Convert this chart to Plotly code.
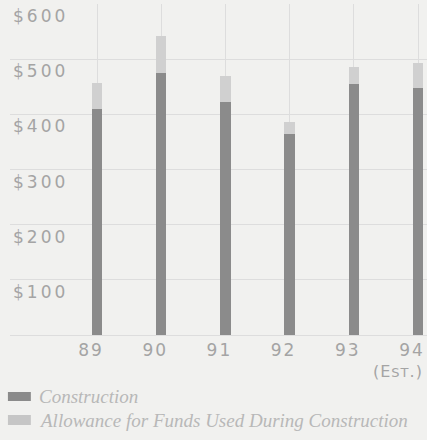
import plotly.graph_objects as go

# Fiscal years and capital expenditures (millions of dollars)
years = [89, 90, 91, 92, 93, 94]
year_labels = ["89", "90", "91", "92", "93", "94"]
estimate_note = "(E<span style='font-size:13px'>ST</span>.)"
construction = [410, 476, 422, 364, 455, 449]
afudc = [48, 66, 47, 23, 32, 45]
series_names = ["Construction", "Allowance for Funds Used During Construction"]
y_ticks = [100, 200, 300, 400, 500, 600]
y_tick_labels = ["$100", "$200", "$300", "$400", "$500", "$600"]

bg = "#f1f1ef"
txt = "#a4a4a4"
grid = "#dddddd"
dark = "#8b8b8b"
light = "#d0d0d0"


def spaced(label, px):
    return f"<span style='letter-spacing:{px}px'>{label}</span>"


fig = go.Figure()
fig.add_trace(go.Bar(
    x=years, y=construction, name=series_names[0],
    marker=dict(color=dark, line=dict(width=0)),
    width=0.16,
))
fig.add_trace(go.Bar(
    x=years, y=afudc, name=series_names[1],
    marker=dict(color=light, line=dict(width=0)),
    width=0.16,
))

# The last year is an estimate: note it under its tick label
fig.add_annotation(xref="x", yref="y", x=years[-1], y=0,
                   xanchor="right", yanchor="top", xshift=7, yshift=-25,
                   text=spaced(estimate_note, 1), showarrow=False,
                   font=dict(family="DejaVu Sans", size=16, color=txt))

# Key beneath the chart: swatch plus italic caption per series
key_rows = [(-0.1722, -0.1994, dark), (-0.2417, -0.2719, "#c6c6c6")]
for name, (y0, y1, col) in zip(series_names, key_rows):
    fig.add_shape(type="rect", xref="paper", yref="paper",
                  x0=-0.005, x1=0.050, y0=y1, y1=y0,
                  fillcolor=col, line=dict(width=0))
    fig.add_annotation(xref="paper", yref="paper",
                       x=0.064, y=(y0 + y1) / 2, xanchor="left", yanchor="middle",
                       text=name, showarrow=False,
                       font=dict(family="Liberation Serif", size=19,
                                 color="#b8b8b8", style="italic"))

fig.update_layout(
    width=427, height=440,
    barmode="stack",
    paper_bgcolor=bg, plot_bgcolor=bg,
    margin=dict(l=10, r=0, t=4, b=105),
    showlegend=False,
    font=dict(family="DejaVu Sans", color=txt),
)
fig.update_xaxes(
    range=[87.645, 94.14],
    automargin=False,
    tickvals=years, ticktext=[spaced(t, 2) for t in year_labels],
    showgrid=True, gridcolor=grid, gridwidth=1,
    zeroline=False, showline=False, ticks="",
    tickfont=dict(family="DejaVu Sans", size=17, color=txt),
    ticklabelshift=-6, ticklabelstandoff=3,
    ticklabeloverflow="allow",
)
fig.update_yaxes(
    range=[0, 600.5],
    automargin=False,
    tickvals=y_ticks, ticktext=[spaced(t, 3) for t in y_tick_labels],
    ticklabelposition="inside",
    ticklabelshift=12,
    ticklabeloverflow="allow",
    showgrid=True, gridcolor=grid, gridwidth=1,
    zeroline=True, zerolinecolor=grid, zerolinewidth=1,
    showline=False, ticks="",
    tickfont=dict(family="DejaVu Sans", size=17, color=txt),
)

fig.write_html("out.html")
